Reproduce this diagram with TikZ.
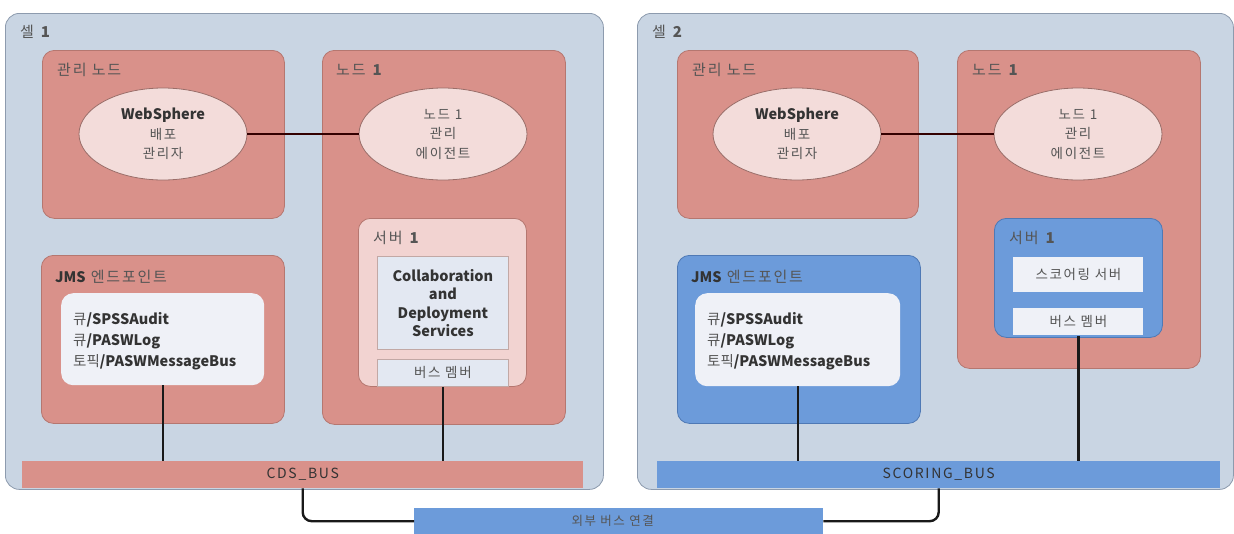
\documentclass[tikz,border=0pt]{standalone}
\usepackage{fontspec}
\setmainfont{Noto Sans CJK KR}
\newfontfamily\kr[LetterSpace=12]{Noto Sans CJK KR}
\usetikzlibrary{shapes.geometric,calc}
\definecolor{cellfill}{HTML}{C9D5E3}
\definecolor{cellline}{HTML}{8D9BAE}
\definecolor{redfill}{HTML}{D9918A}
\definecolor{redline}{HTML}{B57770}
\definecolor{ellfill}{HTML}{F3DCDA}
\definecolor{ellline}{HTML}{9A6E69}
\definecolor{srvfill}{HTML}{F2D3D1}
\definecolor{collfill}{HTML}{E3E8F2}
\definecolor{whitefill}{HTML}{EFF1F7}
\definecolor{bluefill}{HTML}{6C9BDA}
\definecolor{blueline}{HTML}{4F79B5}
\definecolor{txt}{HTML}{333333}
\definecolor{ktxt}{HTML}{555555}
\tikzset{
  cellbox/.style={draw=cellline, fill=cellfill, line width=0.8pt, rounded corners=14pt, anchor=north west, inner sep=0pt},
  redbox/.style={draw=redline, fill=redfill, line width=0.8pt, rounded corners=12pt, anchor=north west, inner sep=0pt},
  bluebox/.style={draw=blueline, fill=bluefill, line width=0.8pt, rounded corners=12pt, anchor=north west, inner sep=0pt},
  srvbox/.style={draw=redline, fill=srvfill, line width=0.8pt, rounded corners=12pt, anchor=north west, inner sep=0pt},
  whitebox/.style={draw=none, fill=whitefill, rounded corners=12pt, anchor=north west, inner sep=0pt},
  plainbox/.style={draw=#1, fill=collfill, line width=0.8pt, anchor=north west, inner sep=0pt, text=ktxt, font=\kr\fontsize{13.5}{18.5}\selectfont, align=center},
  plainbox/.default=redline,
  bus/.style={fill=#1, draw=none, anchor=north west, inner sep=0pt},
  buslbl/.style={text=txt, font=\kr\fontsize{14}{16}\selectfont, inner sep=0pt},
  ell/.style={ellipse, draw=ellline, fill=ellfill, line width=0.8pt, minimum width=168pt, minimum height=92pt, inner sep=0pt, align=center, font=\kr\fontsize{13.5}{19.5}\selectfont, text=ktxt},
  lbl/.style={anchor=west, inner sep=0pt, text=ktxt, font=\kr\fontsize{15}{17}\selectfont},
  lst/.style={anchor=north west, inner sep=0pt, align=left, text=ktxt, font=\fontsize{14.5}{21}\selectfont},
  conn/.style={line width=2.4pt, draw=black!90},
  econn/.style={line width=1.3pt, draw=black!80!red},
}
\begin{document}
\begin{tikzpicture}[x=1pt,y=-1pt]
\useasboundingbox (0,0) rectangle (1234,533);
\fill[white] (0,0) rectangle (1234,533);
% ---------- cell 1 ----------
\node[cellbox, minimum width=598pt, minimum height=476pt] (cell1) at (5,13) {};
\node[lbl] (cell1l) at (20,32) {셀 \textbf{1}};
\node[redbox, minimum width=242pt, minimum height=168pt] (mgmt1) at (42,50) {};
\node[lbl] (mgmt1l) at (57,70) {관리 노드};
\node[redbox, minimum width=243pt, minimum height=374pt] (node1) at (322,50) {};
\node[lbl] (node1l) at (336,70) {노드 \textbf{1}};
\node[ell] (ell1) at (163,134) {\textcolor{txt}{\normalfont\fontsize{14.5}{19.5}\selectfont\textbf{WebSphere}}\\배포\\관리자};
\node[ell] (ell2) at (443,134) {노드 1\\관리\\에이전트};
\node[srvbox, minimum width=168pt, minimum height=168pt] (srv1) at (358,218) {};
\node[lbl] (srv1l) at (373,238) {서버 \textbf{1}};
\node[plainbox=ellline!60, minimum width=131pt, minimum height=93pt, text=txt, font=\fontsize{14.5}{18.5}\selectfont] (coll) at (377,256) {\textbf{Collaboration}\\\textbf{and}\\\textbf{Deployment}\\\textbf{Services}};
\node[plainbox=ellline!60, minimum width=131pt, minimum height=27pt] (busm1) at (377,359) {버스 멤버};
\node[redbox, minimum width=243pt, minimum height=168pt] (jms1) at (41,255) {};
\node[lbl] (jms1l) at (55,277) {\textcolor{txt}{\normalfont\fontsize{14.5}{16}\selectfont\textbf{JMS}} 엔드포인트};
\node[whitebox, minimum width=203pt, minimum height=92pt] (jmsin1) at (61,293) {};
\node[lst] (jmst1) at (73,312) {큐\textcolor{txt}{\textbf{/SPSSAudit}}\\큐\textcolor{txt}{\textbf{/PASWLog}}\\토픽\textcolor{txt}{\textbf{/PASWMessageBus}}};
\node[bus=redfill, minimum width=561pt, minimum height=27pt] (cdsbus) at (22,461) {};
\node[buslbl] (cdsbusl) at (cdsbus.center) {CDS\_BUS};
% ---------- cell 2 ----------
\node[cellbox, minimum width=596pt, minimum height=476pt] (cell2) at (637,13) {};
\node[lbl] (cell2l) at (652,32) {셀 \textbf{2}};
\node[redbox, minimum width=241pt, minimum height=168pt] (mgmt2) at (677,50) {};
\node[lbl] (mgmt2l) at (692,70) {관리 노드};
\node[redbox, minimum width=243pt, minimum height=318pt] (node2) at (957,50) {};
\node[lbl] (node2l) at (972,70) {노드 \textbf{1}};
\node[ell] (ell3) at (797,134) {\textcolor{txt}{\normalfont\fontsize{14.5}{19.5}\selectfont\textbf{WebSphere}}\\배포\\관리자};
\node[ell] (ell4) at (1078,134) {노드 1\\관리\\에이전트};
\node[bluebox, minimum width=168pt, minimum height=119pt] (srv2) at (994,218) {};
\node[lbl] (srv2l) at (1009,238) {서버 \textbf{1}};
\node[plainbox=none, fill=whitefill, minimum width=130pt, minimum height=35pt] (scsrv) at (1013,257) {스코어링 서버};
\node[plainbox=none, fill=whitefill, minimum width=130pt, minimum height=27pt] (busm2) at (1013,308) {버스 멤버};
\node[bluebox, minimum width=243pt, minimum height=168pt] (jms2) at (677,255) {};
\node[lbl] (jms2l) at (691,277) {\textcolor{txt}{\normalfont\fontsize{14.5}{16}\selectfont\textbf{JMS}} 엔드포인트};
\node[whitebox, minimum width=205pt, minimum height=93pt] (jmsin2) at (695,293) {};
\node[lst] (jmst2) at (707,312) {큐\textcolor{txt}{\textbf{/SPSSAudit}}\\큐\textcolor{txt}{\textbf{/PASWLog}}\\토픽\textcolor{txt}{\textbf{/PASWMessageBus}}};
\node[bus=bluefill, minimum width=563pt, minimum height=27pt] (scbus) at (657,461) {};
\node[buslbl] (scbusl) at (scbus.center) {SCORING\_BUS};
% ---------- external bus ----------
\node[bus=bluefill, minimum width=409pt, minimum height=26pt] (ext) at (414,508) {};
\node[buslbl, text=ktxt, font=\kr\fontsize{12.5}{14}\selectfont] (extl) at ([xshift=-6pt]ext.center) {외부 버스 연결};
% ---------- connectors ----------
\draw[econn] (ell1.east) -- (ell2.west);
\draw[econn] (ell3.east) -- (ell4.west);
\draw[conn] (jmsin1.south) -- (jmsin1.south |- cdsbus.north);
\draw[conn] (busm1.south) -- (busm1.south |- cdsbus.north);
\draw[conn] (jmsin2.south) -- (jmsin2.south |- scbus.north);
\draw[conn] (busm2.south) -- (busm2.south |- scbus.north);
\draw[conn, rounded corners=9pt] (cdsbus.south) |- (ext.west);
\draw[conn, rounded corners=9pt] (scbus.south) |- (ext.east);
\end{tikzpicture}
\end{document}
